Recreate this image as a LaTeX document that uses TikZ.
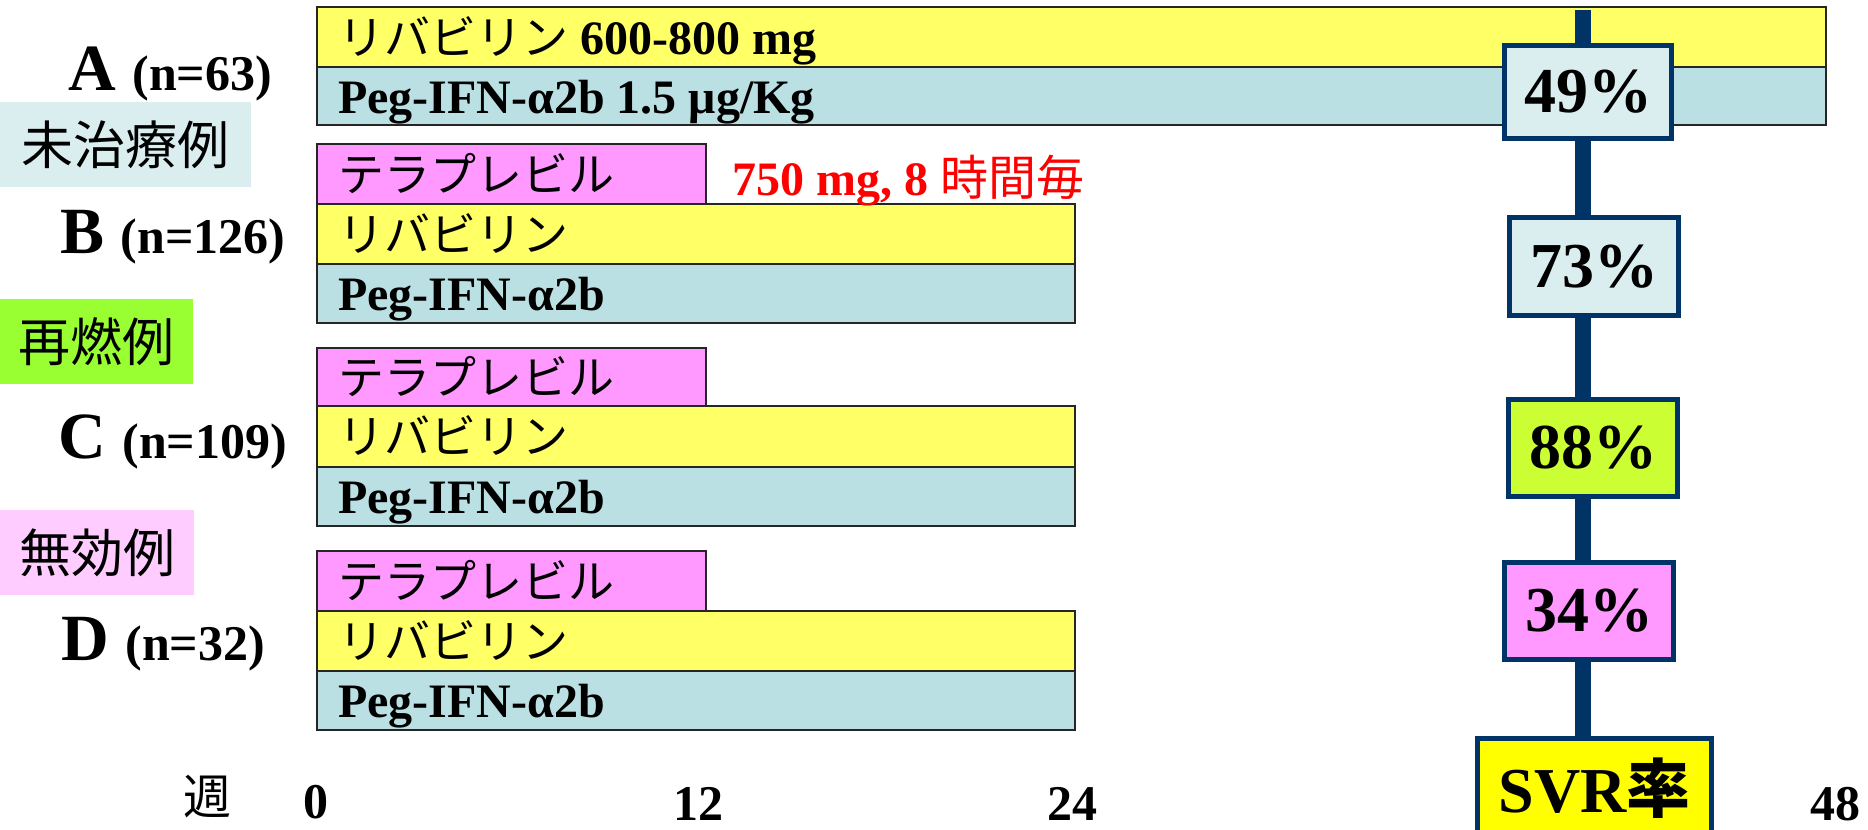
\documentclass[tikz,border=0pt]{standalone}
\usepackage{fontspec}
\setmainfont{Liberation Serif}
\newfontfamily\jp{Noto Sans CJK JP}
\definecolor{barY}{HTML}{FFFF66}
\definecolor{barT}{HTML}{BBE0E3}
\definecolor{barP}{HTML}{FF99FF}
\definecolor{navy}{HTML}{003366}
\definecolor{lblue}{HTML}{DAEEF0}
\definecolor{lgreen}{HTML}{99FF33}
\definecolor{lpink}{HTML}{FFCCFF}
\definecolor{lime}{HTML}{CCFF33}
\definecolor{svrY}{HTML}{FFFF00}
\definecolor{redtxt}{HTML}{FF0000}
\newcommand\fs[1]{\fontsize{#1bp}{#1bp}\selectfont}
\newcommand\J[1]{{\fs{46}\jp\mdseries #1}}
\newcommand\drugbar[7]{%
  \path[barline, fill=#6] (#2,#3) rectangle (#4,#5);
  \node[bartext] (#1) at (#2+21,{(#3+#5)/2+17}) {#7};}
\begin{document}
\begin{tikzpicture}[x=1bp,y=-1bp,
  barline/.style={draw=black!85, line width=2bp},
  bartext/.style={anchor=base west, inner sep=0pt, font=\fs{48}\bfseries},
  pct/.style={draw=navy, line width=5bp, font=\fs{64}\bfseries, inner sep=0pt},
  cat/.style={inner sep=0pt, font=\fs{52}\jp, anchor=north west},
  grp/.style={anchor=base west, inner sep=0pt, font=\bfseries},
  axis/.style={anchor=base, inner sep=0pt, font=\fs{50}\bfseries},
  vline/.style={draw=navy, line width=16bp}]
\useasboundingbox (0,0) rectangle (1868,830);
% group A
\drugbar{aY}{317}{7}{1826}{67}{barY}{\J{リバビリン} 600-800 mg}
\drugbar{aT}{317}{67}{1826}{125}{barT}{Peg-IFN-α2b 1.5 μg/Kg}
% group B
\drugbar{bP}{317}{144}{706}{204}{barP}{\J{テラプレビル}}
\drugbar{bY}{317}{204}{1075}{264}{barY}{\J{リバビリン}}
\drugbar{bT}{317}{264}{1075}{323}{barT}{Peg-IFN-α2b}
% group C
\drugbar{cP}{317}{348}{706}{406}{barP}{\J{テラプレビル}}
\drugbar{cY}{317}{406}{1075}{467}{barY}{\J{リバビリン}}
\drugbar{cT}{317}{467}{1075}{526}{barT}{Peg-IFN-α2b}
% group D
\drugbar{dP}{317}{551}{706}{611}{barP}{\J{テラプレビル}}
\drugbar{dY}{317}{611}{1075}{671}{barY}{\J{リバビリン}}
\drugbar{dT}{317}{671}{1075}{730}{barT}{Peg-IFN-α2b}
% dose note
\node[bartext, text=redtxt] (dose) at (732,195) {750 mg, 8 {\jp\mdseries 時間毎}};
% group labels
\node[grp] (labA) at (68,90) {\fs{66}A \fs{50}(n=63)};
\node[grp] (labB) at (60,253) {\fs{66}B \fs{50}(n=126)};
\node[grp] (labC) at (58,458) {\fs{66}C \fs{50}(n=109)};
\node[grp] (labD) at (61,660) {\fs{66}D \fs{50}(n=32)};
% categories
\node[cat, fill=lblue, minimum width=251bp, minimum height=85bp] (untreated) at (0,102) {未治療例};
\node[cat, fill=lgreen, minimum width=193bp, minimum height=85bp] (relapse) at (0,299) {再燃例};
\node[cat, fill=lpink, minimum width=194bp, minimum height=85bp] (nonresp) at (0,510) {無効例};
% SVR boxes
\node[pct, fill=lblue, minimum width=167bp, minimum height=93bp] (p49) at (1588,92) {49\%};
\node[pct, fill=lblue, minimum width=169bp, minimum height=98bp] (p73) at (1594,266.5) {73\%};
\node[pct, fill=lime, minimum width=169bp, minimum height=97bp] (p88) at (1593,448) {88\%};
\node[pct, fill=barP, minimum width=169bp, minimum height=97bp] (p34) at (1589,611) {34\%};
\node[pct, fill=svrY, minimum width=234bp, minimum height=99bp] (svr) at (1594.5,788) {SVR{\jp 率}};
\coordinate (vtop) at (1583,10);
\draw[vline] (vtop) -- (vtop |- p49.north);
\draw[vline] (vtop |- p49.south) -- (vtop |- p73.north);
\draw[vline] (vtop |- p73.south) -- (vtop |- p88.north);
\draw[vline] (vtop |- p88.south) -- (vtop |- p34.north);
\draw[vline] (vtop |- p34.south) -- (vtop |- svr.north);
% axis
\node[axis, font=\fs{48}\jp] (week) at (207,814) {週};
\node[axis] (t0) at (316,818) {0};
\node[axis] (t12) at (698,820) {12};
\node[axis] (t24) at (1072,820) {24};
\node[axis] (t48) at (1835,820) {48};
\end{tikzpicture}
\end{document}
